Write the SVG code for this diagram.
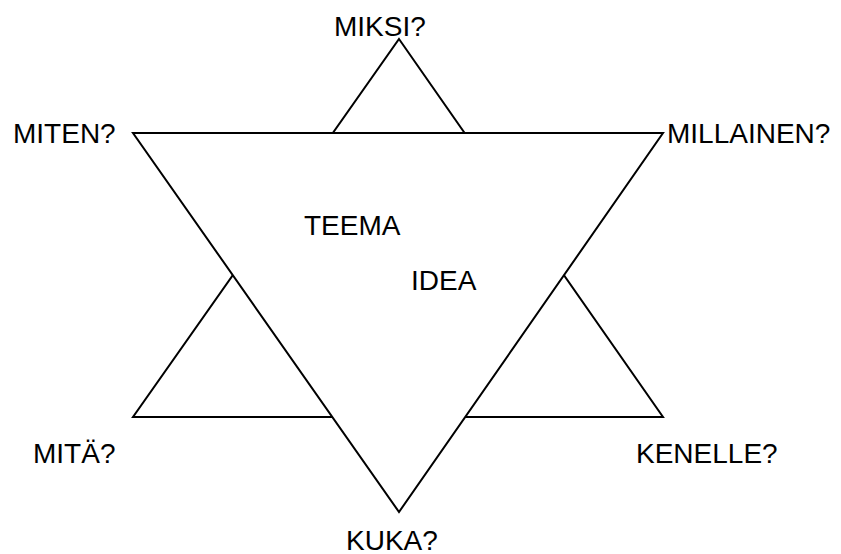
<svg xmlns="http://www.w3.org/2000/svg" width="841" height="554" viewBox="0 0 841 554">
  <style>
    .tri { stroke: #000; stroke-width: 2; stroke-linejoin: miter; }
    .lbl { font-family: "Liberation Sans", Arial, sans-serif; font-size: 28px; fill: #000; }
  </style>
  <rect width="841" height="554" fill="#fff"/>
  <!-- hexagram: the downward triangle is painted white over the upward one -->
  <g id="connectors">
    <polygon id="up-triangle" class="tri" fill="#fff" points="399,39 663,417 133,417"/>
    <polygon id="down-triangle" class="tri" fill="#fff" points="133,133 663,133 399,512"/>
  </g>
  <g id="miksi"><text class="lbl" x="334" y="36">MIKSI?</text></g>
  <g id="miten"><text class="lbl" x="13" y="143">MITEN?</text></g>
  <g id="millainen"><text class="lbl" x="667" y="143">MILLAINEN?</text></g>
  <g id="mita"><text class="lbl" x="33" y="463">MITÄ?</text></g>
  <g id="kenelle"><text class="lbl" x="636" y="463">KENELLE?</text></g>
  <g id="kuka"><text class="lbl" x="346" y="550">KUKA?</text></g>
  <g id="teema"><text class="lbl" x="304" y="235">TEEMA</text></g>
  <g id="idea"><text class="lbl" x="411" y="290">IDEA</text></g>
</svg>
